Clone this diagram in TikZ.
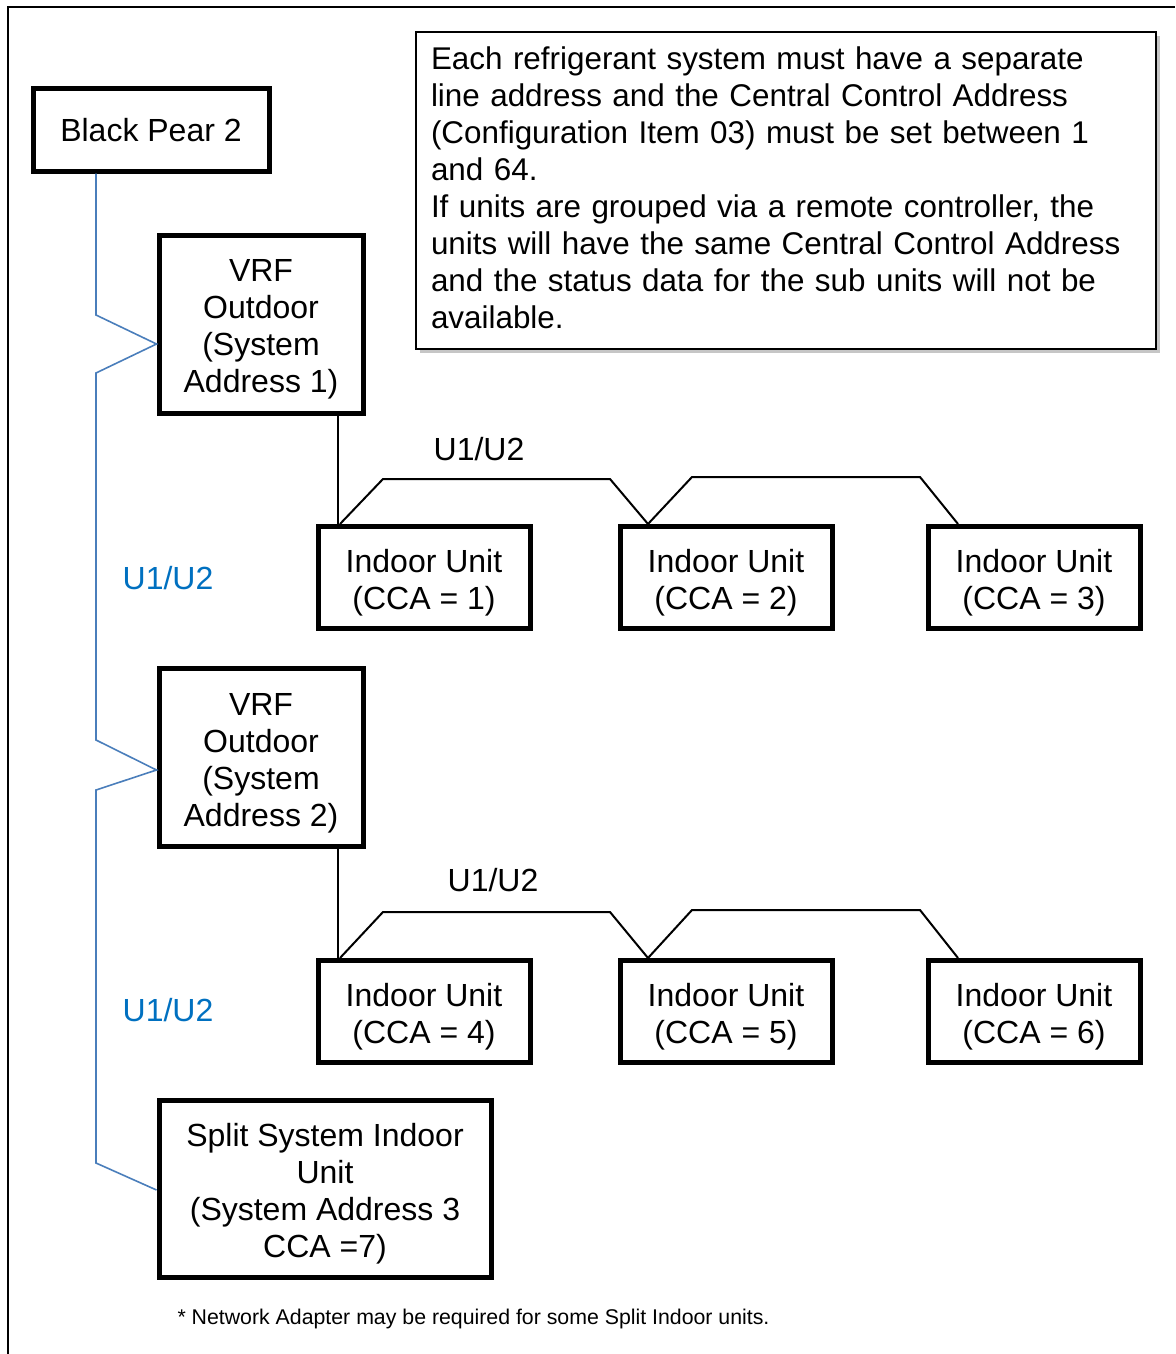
\documentclass[tikz,border=0pt]{standalone}
\usepackage{fontspec}
\setmainfont{Liberation Sans}
\usetikzlibrary{shadows,calc}
\definecolor{wireblue}{HTML}{4A7EBB}
\definecolor{labelblue}{HTML}{0070C0}
\newcommand\mytstrut{\rule{0pt}{16.6pt}}
\begin{document}
\begin{tikzpicture}[x=0.5pt,y=-0.5pt,
  box/.style={draw, line width=2.5pt, inner sep=0pt, align=center,
    font=\fontsize{16}{18.5}\selectfont},
  indoor/.style={box, minimum width=106pt, minimum height=51pt},
  outdoor/.style={box, minimum width=102pt, minimum height=89pt},
  wire/.style={draw=black, line width=1pt},
  bluewire/.style={draw=wireblue, line width=0.8pt},
  lbl/.style={font=\fontsize{16}{18.5}\selectfont, inner sep=0pt},
  bluelbl/.style={lbl, text=labelblue},
  notebox/.style={draw, line width=1pt, fill=white, inner xsep=7.5pt, inner ysep=0pt,
    text width=355pt, align=left, minimum height=158.5pt,
    font=\fontsize{15.7}{18.5}\selectfont,
    drop shadow={shadow xshift=2pt, shadow yshift=-2pt, opacity=0.45}},
  frame/.style={draw=black, line width=1pt}
]
\useasboundingbox (0,0) rectangle (1175,1354);
% outer frame
\coordinate (fr0) at (8,1354);
\coordinate (fr1) at (8,7);
\coordinate (fr2) at (1175,7);
\draw[frame] (fr0) -- (fr1) -- (fr2);

% note
\node[notebox] (note) at (786,190.5) {Each refrigerant system must have a separate\\
line address and the Central Control Address\\
(Configuration Item 03) must be set between 1\\
and 64.\\
If units are grouped via a remote controller, the\\
units will have the same Central Control Address\\
and the status data for the sub units will not be\\
available.\rule[-2.5pt]{0pt}{0pt}};

% main nodes
\node[box, minimum width=118pt, minimum height=41pt] (bp) at (151,130) {Black Pear 2};
\node[outdoor] (vrf1) at (261,324) {\mytstrut VRF\\Outdoor\\(System\\Address 1)};
\node[indoor] (in1) at (424,577.5) {\mytstrut Indoor Unit\\(CCA = 1)};
\node[indoor] (in2) at (726,577.5) {\mytstrut Indoor Unit\\(CCA = 2)};
\node[indoor] (in3) at (1034,577.5) {\mytstrut Indoor Unit\\(CCA = 3)};
\node[outdoor] (vrf2) at (261,757.5) {\mytstrut VRF\\Outdoor\\(System\\Address 2)};
\node[indoor] (in4) at (424,1011.5) {\mytstrut Indoor Unit\\(CCA = 4)};
\node[indoor] (in5) at (726,1011.5) {\mytstrut Indoor Unit\\(CCA = 5)};
\node[indoor] (in6) at (1034,1011.5) {\mytstrut Indoor Unit\\(CCA = 6)};
\node[box, minimum width=166pt, minimum height=88.5pt] (split) at (325,1188.5)
  {\mytstrut Split System Indoor\\Unit\\(System Address 3\\CCA =7)};

% labels
\node[lbl] (l1) at (479,449) {U1/U2};
\node[lbl] (l2) at (493,880) {U1/U2};
\node[bluelbl] (b1) at (168,578) {U1/U2};
\node[bluelbl] (b2) at (168,1010) {U1/U2};
\node[font=\fontsize{10.65}{12.5}\selectfont, inner sep=0pt] (foot) at (473.5,1319)
  {* Network Adapter may be required for some Split Indoor units.};

% blue bus
\coordinate (busx) at (96,0);
\draw[bluewire] (bp.south -| busx) -- (96,315) -- ([yshift=-10pt]vrf1.west)
  -- (96,373) -- (96,740) -- ([yshift=-6.25pt]vrf2.west)
  -- (96,790) -- (96,1163) -- ([yshift=-0.75pt]split.west);

% U1/U2 chains
\coordinate (dropx) at (338,0);
\draw[wire] (vrf1.south -| dropx) -- (in1.north -| dropx);
\draw[wire] ([xshift=-42pt]in1.north) -- (383,479) -- (610,479)
  -- ([xshift=-39pt]in2.north) -- (692,477) -- (920,477) -- ([xshift=-38pt]in3.north);
\draw[wire] (vrf2.south -| dropx) -- (in4.north -| dropx);
\draw[wire] ([xshift=-42pt]in4.north) -- (383,912) -- (610,912)
  -- ([xshift=-39pt]in5.north) -- (692,910) -- (920,910) -- ([xshift=-38pt]in6.north);
\end{tikzpicture}
\end{document}
